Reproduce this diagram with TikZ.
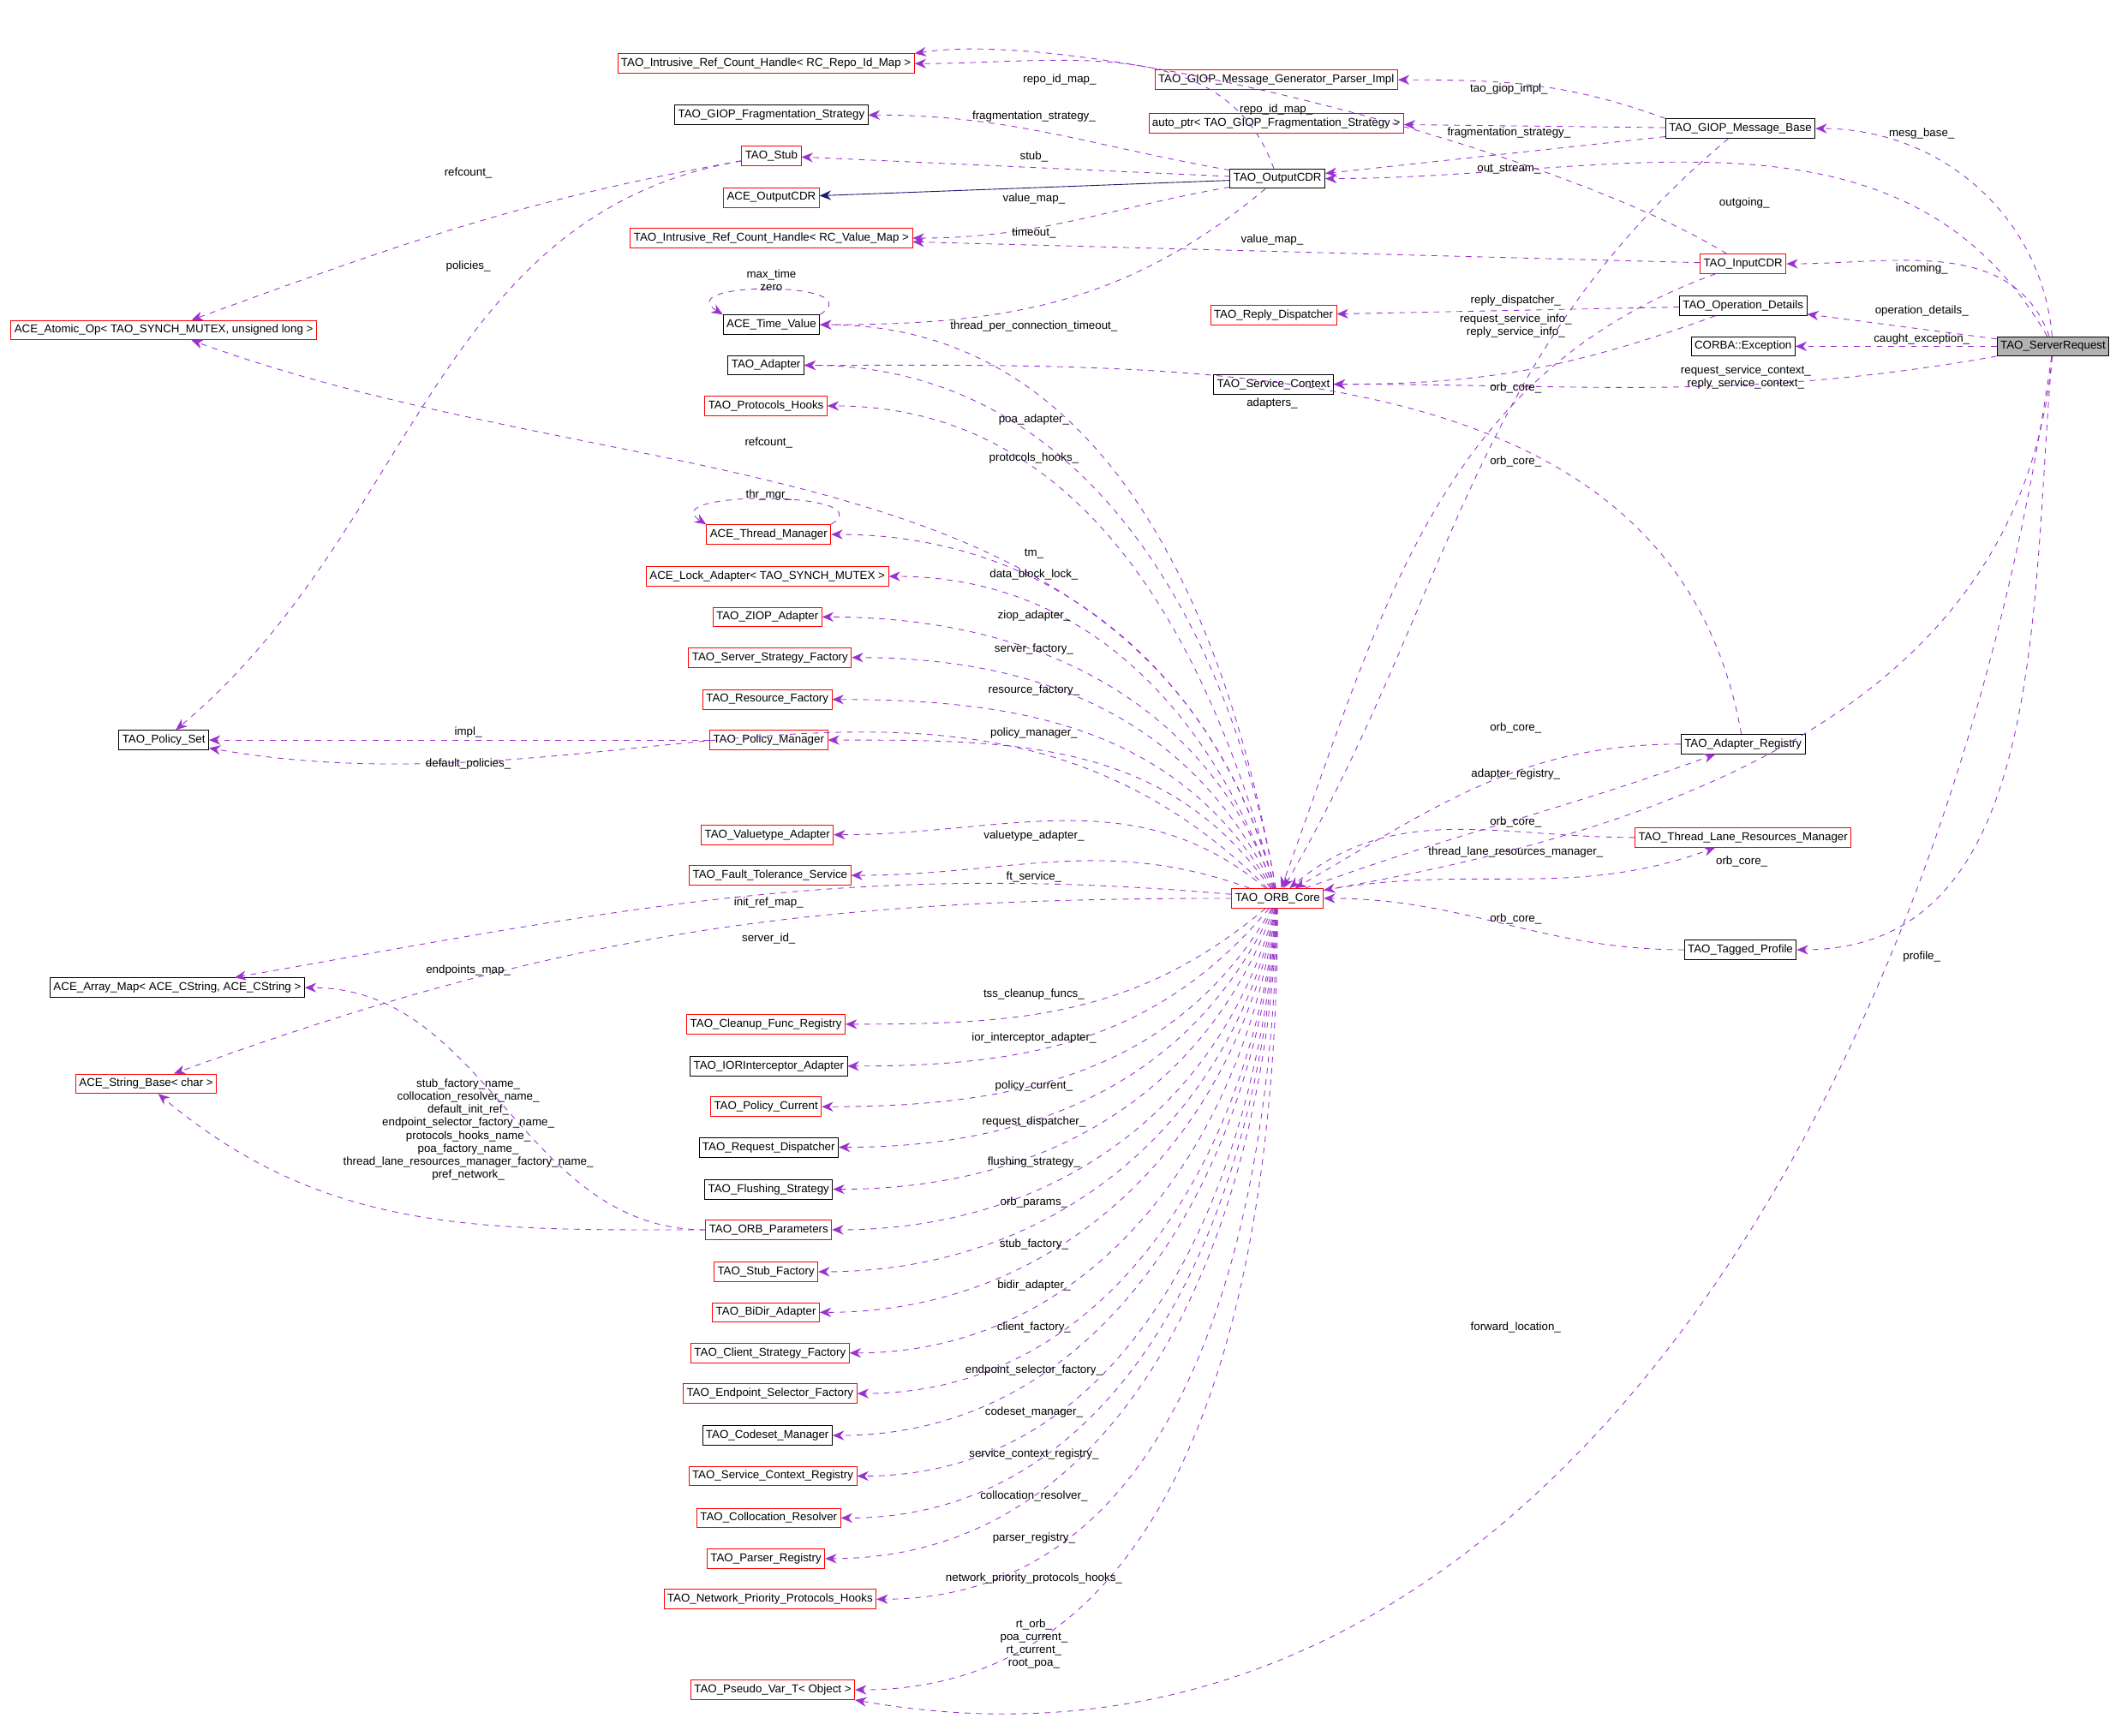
\documentclass[tikz,border=0pt]{standalone}
\usepackage{fontspec}
\setmainfont{Liberation Sans}
\usetikzlibrary{shapes,arrows.meta}
\definecolor{relcol}{HTML}{9A32CD}
\definecolor{inhcol}{HTML}{191970}
\tikzset{
  cls/.style={draw=black,fill=white,inner sep=1.8pt,minimum height=0.36cm,font=\fontsize{6}{7}\selectfont},
  clsred/.style={cls,draw=red},
  clsgray/.style={cls,fill=gray!60},
  rel/.style={draw=relcol,dashed,-{Stealth[length=6pt,width=5pt]}},
  inh/.style={draw=inhcol,-{Stealth[length=6pt,width=5pt]}},
  lbl/.style={font=\fontsize{6}{6.8}\selectfont,align=center,inner sep=0pt}
}
\begin{document}
\begin{tikzpicture}[x=0.025cm,y=-0.025cm]
\useasboundingbox (0,0) rectangle (1568,1283);

\draw
    node at(1517,256)[clsgray,name=srvreq]{TAO\_ServerRequest}
    node at(943,59)[clsred,name=giopimpl]{TAO\_GIOP\_Message\_Generator\_Parser\_Impl}
    node at(566,47)[clsred,name=repoid]{TAO\_Intrusive\_Ref\_Count\_Handle< RC\_Repo\_Id\_Map >}
    node at(943,91)[clsred,name=autoptr]{auto\_ptr< TAO\_GIOP\_Fragmentation\_Strategy >}
    node at(1286,95)[cls,name=giopbase]{TAO\_GIOP\_Message\_Base}
    node at(570,85)[cls,name=fragstrat]{TAO\_GIOP\_Fragmentation\_Strategy}
    node at(570,115)[clsred,name=stub]{TAO\_Stub}
    node at(944,132)[cls,name=outcdr]{TAO\_OutputCDR}
    node at(570,146)[clsred,name=aceout]{ACE\_OutputCDR}
    node at(570,176)[clsred,name=valmap]{TAO\_Intrusive\_Ref\_Count\_Handle< RC\_Value\_Map >}
    node at(1288,195)[clsred,name=incdr]{TAO\_InputCDR}
    node at(121,244)[clsred,name=atomic]{ACE\_Atomic\_Op< TAO\_SYNCH\_MUTEX, unsigned long >}
    node at(570,240)[cls,name=timeval]{ACE\_Time\_Value}
    node at(941,233)[clsred,name=replydisp]{TAO\_Reply\_Dispatcher}
    node at(1288,226)[cls,name=opdet]{TAO\_Operation\_Details}
    node at(1288,256)[cls,name=corbaex]{CORBA::Exception}
    node at(941,284)[cls,name=svcctx]{TAO\_Service\_Context}
    node at(566,270)[cls,name=adapter]{TAO\_Adapter}
    node at(566,300)[clsred,name=prothooks]{TAO\_Protocols\_Hooks}
    node at(568,395)[clsred,name=thrmgr]{ACE\_Thread\_Manager}
    node at(567,426)[clsred,name=lockad]{ACE\_Lock\_Adapter< TAO\_SYNCH\_MUTEX >}
    node at(567,456)[clsred,name=ziop]{TAO\_ZIOP\_Adapter}
    node at(569,486)[clsred,name=srvfact]{TAO\_Server\_Strategy\_Factory}
    node at(567,517)[clsred,name=resfact]{TAO\_Resource\_Factory}
    node at(121,547)[cls,name=polset]{TAO\_Policy\_Set}
    node at(568,547)[clsred,name=polmgr]{TAO\_Policy\_Manager}
    node at(1288,550)[cls,name=adreg]{TAO\_Adapter\_Registry}
    node at(567,617)[clsred,name=valtype]{TAO\_Valuetype\_Adapter}
    node at(1288,619)[clsred,name=tlrm]{TAO\_Thread\_Lane\_Resources\_Manager}
    node at(569,647)[clsred,name=ftserv]{TAO\_Fault\_Tolerance\_Service}
    node at(944,664)[clsred,name=orbcore]{TAO\_ORB\_Core}
    node at(1286,702)[cls,name=tagprof]{TAO\_Tagged\_Profile}
    node at(131,730)[cls,name=arrmap]{ACE\_Array\_Map< ACE\_CString, ACE\_CString >}
    node at(108,801)[clsred,name=strbase]{ACE\_String\_Base< char >}
    node at(566,757)[clsred,name=cleanup]{TAO\_Cleanup\_Func\_Registry}
    node at(568,788)[cls,name=iorint]{TAO\_IORInterceptor\_Adapter}
    node at(566,818)[clsred,name=polcur]{TAO\_Policy\_Current}
    node at(568,848)[cls,name=reqdisp]{TAO\_Request\_Dispatcher}
    node at(568,879)[cls,name=flush]{TAO\_Flushing\_Strategy}
    node at(568,909)[clsred,name=orbparams]{TAO\_ORB\_Parameters}
    node at(566,940)[clsred,name=stubfact]{TAO\_Stub\_Factory}
    node at(566,970)[clsred,name=bidir]{TAO\_BiDir\_Adapter}
    node at(569,1000)[clsred,name=clifact]{TAO\_Client\_Strategy\_Factory}
    node at(569,1030)[clsred,name=endpt]{TAO\_Endpoint\_Selector\_Factory}
    node at(567,1061)[cls,name=codeset]{TAO\_Codeset\_Manager}
    node at(571,1091)[clsred,name=scr]{TAO\_Service\_Context\_Registry}
    node at(568,1122)[clsred,name=coloc]{TAO\_Collocation\_Resolver}
    node at(566,1152)[clsred,name=parser]{TAO\_Parser\_Registry}
    node at(569,1182)[clsred,name=npph]{TAO\_Network\_Priority\_Protocols\_Hooks}
    node at(571,1249)[clsred,name=pseudo]{TAO\_Pseudo\_Var\_T< Object >}
;

% TAO_ServerRequest members
\draw[rel](srvreq) to[out=95,in=0] (giopbase);
\draw[rel](srvreq) to[out=120,in=0] (outcdr);
\draw[rel](srvreq) to[out=110,in=0] (incdr);
\draw[rel](srvreq) -- (opdet);
\draw[rel](srvreq) -- (corbaex);
\draw[rel](srvreq) to[out=190,in=0] (svcctx);
\draw[rel](srvreq) to[out=265,in=10] (orbcore);
\draw[rel](srvreq) to[out=265,in=0] (tagprof);
\draw[rel](srvreq) to[out=262,in=-10] (pseudo.south east);
\node[lbl] at(1420,99){mesg\_base\_};
\node[lbl] at(1289,150){outgoing\_};
\node[lbl] at(1420,199){incoming\_};
\node[lbl] at(1420,230){operation\_details\_};
\node[lbl] at(1420,251){caught\_exception\_};
\node[lbl] at(1290,279){request\_service\_context\_\\reply\_service\_context\_};
\node[lbl] at(1287,637){orb\_core\_};
\node[lbl] at(1420,707){profile\_};
\node[lbl] at(1120,981){forward\_location\_};

% TAO_GIOP_Message_Base members
\draw[rel](giopbase.north west) to[out=160,in=0] (giopimpl);
\draw[rel](giopbase) -- (autoptr);
\draw[rel](giopbase) -- (outcdr);
\draw[rel](giopbase) to[out=220,in=60] (orbcore);
\node[lbl] at(1115,66){tao\_giop\_impl\_};
\node[lbl] at(1115,98){fragmentation\_strategy\_};
\node[lbl] at(1115,125){out\_stream\_};
\node[lbl] at(1120,341){orb\_core\_};

% TAO_OutputCDR members
\draw[rel](outcdr) to[out=110,in=0] (repoid);
\draw[rel](outcdr) to[out=170,in=0] (fragstrat);
\draw[rel](outcdr) -- (stub);
\draw[inh](outcdr) -- (aceout);
\draw[rel](outcdr) to[out=190,in=0] (valmap);
\draw[rel](outcdr) to[out=220,in=0] (timeval);
\node[lbl] at(783,59){repo\_id\_map\_};
\node[lbl] at(764,86){fragmentation\_strategy\_};
\node[lbl] at(764,116){stub\_};
\node[lbl] at(764,147){value\_map\_};
\node[lbl] at(764,172){timeout\_};

% TAO_InputCDR members
\draw[rel](incdr) .. controls (1150,110) and (800,20) .. (repoid.north east);
\draw[rel](incdr) -- (valmap);
\draw[rel](incdr) to[out=200,in=70] (orbcore);
\node[lbl] at(943,81){repo\_id\_map\_};
\node[lbl] at(940,177){value\_map\_};
\node[lbl] at(1120,287){orb\_core\_};

% TAO_Operation_Details members
\draw[rel](opdet) -- (replydisp);
\draw[rel](opdet) to[out=200,in=0] (svcctx);
\node[lbl] at(1120,222){reply\_dispatcher\_};
\node[lbl] at(1120,241){request\_service\_info\_\\reply\_service\_info\_};

% TAO_Stub members
\draw[rel](stub) to[out=190,in=20] (atomic);
\draw[rel](stub) to[out=190,in=40] (polset);
\node[lbl] at(346,128){refcount\_};
\node[lbl] at(346,197){policies\_};

% self loops
\draw[rel](timeval.north east) .. controls +(40,-25) and +(-40,-25) .. (timeval.north west);
\node[lbl] at(570,207){max\_time\\zero};
\draw[rel](thrmgr.north east) .. controls +(40,-25) and +(-40,-25) .. (thrmgr.north west);
\node[lbl] at(568,366){thr\_mgr\_};

% TAO_Policy_Manager
\draw[rel](polmgr) -- (polset);
\node[lbl] at(346,541){impl\_};

% TAO_Adapter_Registry
\draw[rel](adreg) to[out=180,in=30] (orbcore);
\draw[rel](adreg) to[out=100,in=0] (adapter);
\draw[rel](orbcore) to[out=20,in=200] (adreg);
\node[lbl] at(1120,538){orb\_core\_};
\node[lbl] at(1120,572){adapter\_registry\_};
\node[lbl] at(940,298){adapters\_};

% TAO_Thread_Lane_Resources_Manager
\draw[rel](tlrm) to[out=180,in=40] (orbcore);
\draw[rel](orbcore) to[out=10,in=200] (tlrm);
\node[lbl] at(1120,608){orb\_core\_};
\node[lbl] at(1120,630){thread\_lane\_resources\_manager\_};

% TAO_Tagged_Profile
\draw[rel](tagprof) to[out=180,in=0] (orbcore);
\node[lbl] at(1120,679){orb\_core\_};

% TAO_ORB_Core members (upper)
\draw[rel](orbcore) to[out=100,in=0] (timeval);
\draw[rel](orbcore) to[out=100,in=0] (adapter);
\draw[rel](orbcore) to[out=105,in=0] (prothooks);
\draw[rel](orbcore) to[out=105,in=0] (thrmgr);
\draw[rel](orbcore) to[out=110,in=0] (lockad);
\draw[rel](orbcore) to[out=110,in=0] (ziop);
\draw[rel](orbcore) to[out=115,in=0] (srvfact);
\draw[rel](orbcore) to[out=120,in=0] (resfact);
\draw[rel](orbcore) to[out=125,in=0] (polmgr);
\draw[rel](orbcore) to[out=140,in=0] (valtype);
\draw[rel](orbcore) to[out=160,in=0] (ftserv);
\draw[rel](orbcore) to[out=105,in=-20] (atomic);
\draw[rel](orbcore) to[out=135,in=-10] (polset);
\draw[rel](orbcore) to[out=175,in=10] (arrmap);
\draw[rel](orbcore) to[out=180,in=20] (strbase);
\node[lbl] at(764,241){thread\_per\_connection\_timeout\_};
\node[lbl] at(764,310){poa\_adapter\_};
\node[lbl] at(568,327){refcount\_};
\node[lbl] at(764,339){protocols\_hooks\_};
\node[lbl] at(764,409){tm\_};
\node[lbl] at(764,425){data\_block\_lock\_};
\node[lbl] at(764,455){ziop\_adapter\_};
\node[lbl] at(764,480){server\_factory\_};
\node[lbl] at(764,510){resource\_factory\_};
\node[lbl] at(764,542){policy\_manager\_};
\node[lbl] at(346,565){default\_policies\_};
\node[lbl] at(764,618){valuetype\_adapter\_};
\node[lbl] at(764,648){ft\_service\_};
\node[lbl] at(568,667){init\_ref\_map\_};
\node[lbl] at(568,694){server\_id\_};

% TAO_ORB_Core members (lower)
\draw[rel](orbcore) to[out=220,in=0] (cleanup);
\draw[rel](orbcore) to[out=230,in=0] (iorint);
\draw[rel](orbcore) to[out=240,in=0] (polcur);
\draw[rel](orbcore) to[out=245,in=0] (reqdisp);
\draw[rel](orbcore) to[out=250,in=0] (flush);
\draw[rel](orbcore) to[out=255,in=0] (orbparams);
\draw[rel](orbcore) to[out=258,in=0] (stubfact);
\draw[rel](orbcore) to[out=260,in=0] (bidir);
\draw[rel](orbcore) to[out=262,in=0] (clifact);
\draw[rel](orbcore) to[out=264,in=0] (endpt);
\draw[rel](orbcore) to[out=265,in=0] (codeset);
\draw[rel](orbcore) to[out=266,in=0] (scr);
\draw[rel](orbcore) to[out=267,in=0] (coloc);
\draw[rel](orbcore) to[out=268,in=0] (parser);
\draw[rel](orbcore) to[out=269,in=0] (npph);
\draw[rel](orbcore) to[out=270,in=0] (pseudo);
\node[lbl] at(764,735){tss\_cleanup\_funcs\_};
\node[lbl] at(764,767){ior\_interceptor\_adapter\_};
\node[lbl] at(764,803){policy\_current\_};
\node[lbl] at(764,829){request\_dispatcher\_};
\node[lbl] at(764,859){flushing\_strategy\_};
\node[lbl] at(764,889){orb\_params\_};
\node[lbl] at(764,920){stub\_factory\_};
\node[lbl] at(764,950){bidir\_adapter\_};
\node[lbl] at(764,981){client\_factory\_};
\node[lbl] at(764,1013){endpoint\_selector\_factory\_};
\node[lbl] at(764,1044){codeset\_manager\_};
\node[lbl] at(764,1075){service\_context\_registry\_};
\node[lbl] at(764,1106){collocation\_resolver\_};
\node[lbl] at(764,1137){parser\_registry\_};
\node[lbl] at(764,1167){network\_priority\_protocols\_hooks\_};
\node[lbl] at(764,1215){rt\_orb\_\\poa\_current\_\\rt\_current\_\\root\_poa\_};

% TAO_ORB_Parameters members
\draw[rel](orbparams) to[out=180,in=0] (arrmap);
\draw[rel](orbparams) to[out=180,in=-40] (strbase);
\node[lbl] at(346,717){endpoints\_map\_};
\node[lbl] at(346,835){stub\_factory\_name\_\\collocation\_resolver\_name\_\\default\_init\_ref\_\\endpoint\_selector\_factory\_name\_\\protocols\_hooks\_name\_\\poa\_factory\_name\_\\thread\_lane\_resources\_manager\_factory\_name\_\\pref\_network\_};

\end{tikzpicture}
\end{document}
